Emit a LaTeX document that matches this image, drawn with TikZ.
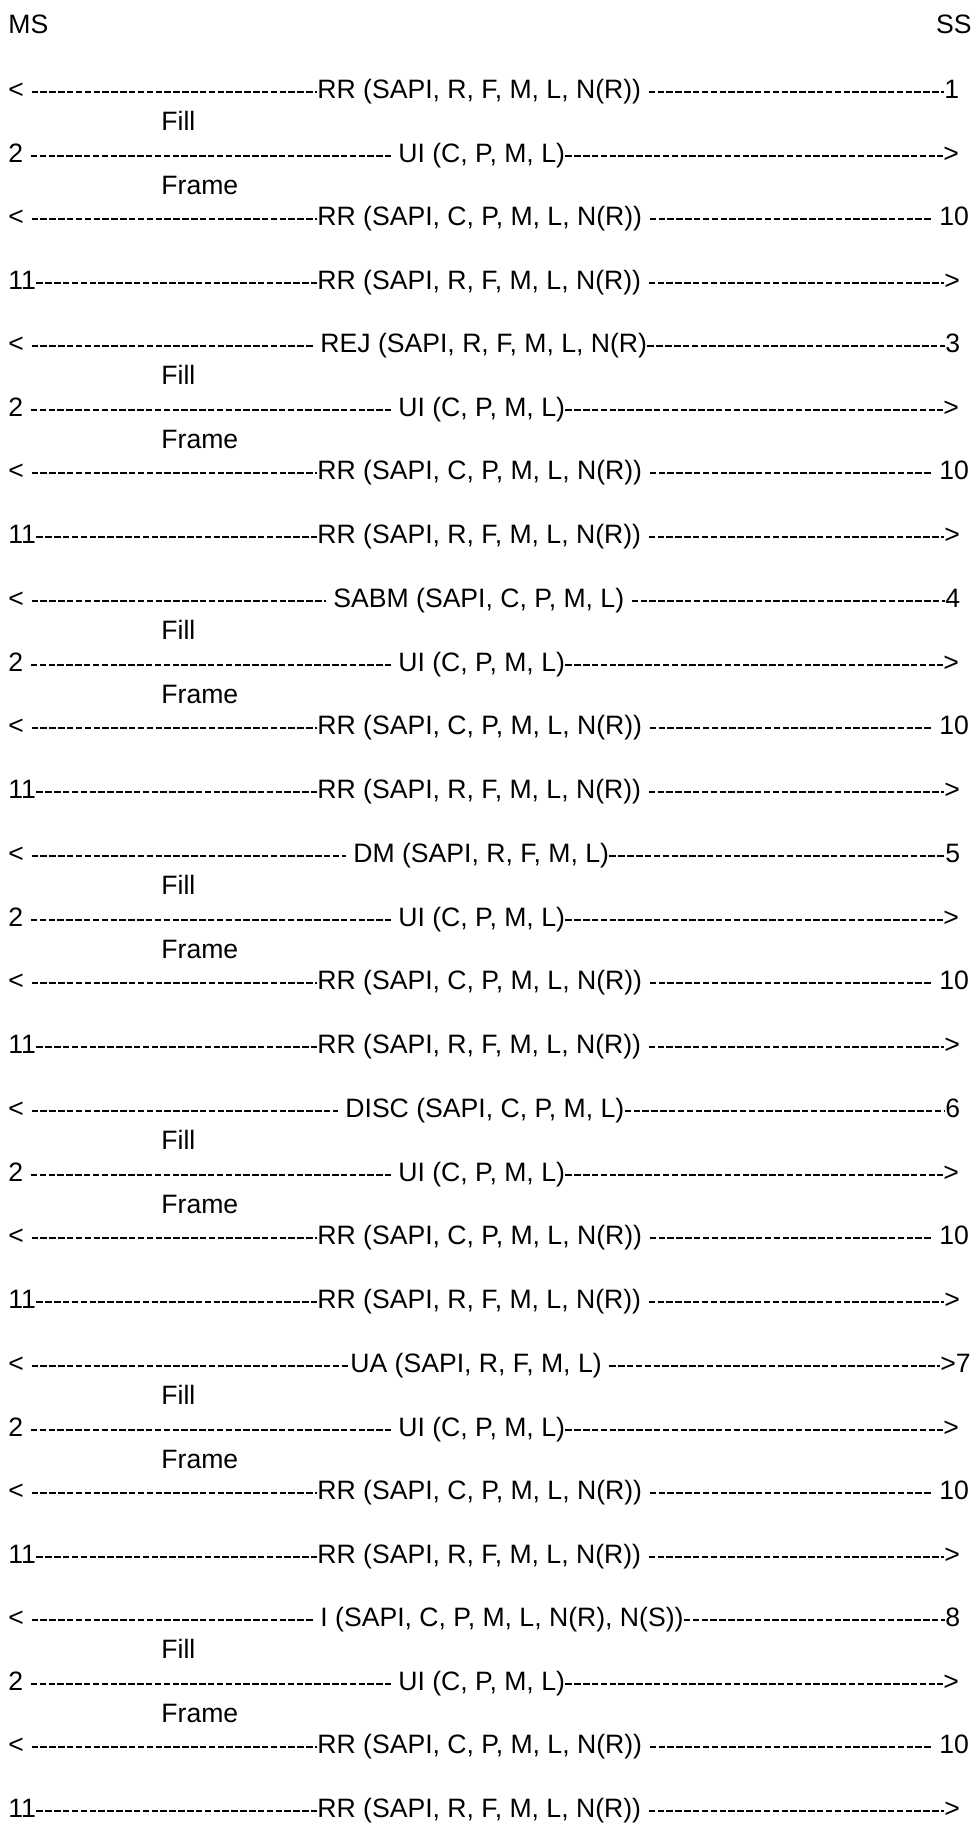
\documentclass[tikz,border=0pt]{standalone}
\usepackage{fontspec}
\setmainfont{Liberation Sans}
\tikzset{
  lbl/.style={anchor=base west, inner sep=0pt, font=\fontsize{13.3pt}{16pt}\selectfont},
  hy/.style={line width=1pt, dash pattern=on 3.25pt off 1.18pt, transform canvas={yshift=3pt}}
}
\begin{document}
\begin{tikzpicture}[x=0.5pt, y=-0.5pt]
  \useasboundingbox (0,0) rectangle (974,1827);
  % stations
  \node[lbl] (ms) at (8,33) {MS};
  \node[lbl, anchor=base east] (ss) at (972,33) {SS};
  % first line of each block
  \foreach \b/\txt/\mx/\gb/\ga/\rt/\rx in {
      0/{RR (SAPI, R, F, M, L, N(R))}/317/0/3.6/1/944,
      1/{REJ (SAPI, R, F, M, L, N(R)}/320/3.6/0/3/945,
      2/{SABM (SAPI, C, P, M, L)}/333/3.6/3.6/4/945,
      3/{DM (SAPI, R, F, M, L)}/353/3.6/0/5/945,
      4/{DISC (SAPI, C, P, M, L)}/345/3.6/0/6/945,
      5/{UA (SAPI, R, F, M, L)}/350/0/3.6/{>7}/940,
      6/{I (SAPI, C, P, M, L, N(R), N(S))}/320/3.6/0/8/945}
  {
    \pgfmathsetmacro\yb{round(97.5+254.8*\b)}
    \node[lbl] (l\b) at (8,\yb) {<};
    \node[lbl] (m\b) at (\mx,\yb) {\txt};
    \node[lbl] (r\b) at (\rx,\yb) {\rt};
    \draw[hy, shorten <=3.6pt, shorten >=\gb pt] (l\b.base east) -- (m\b.base west);
    \draw[hy, shorten <=\ga pt] (m\b.base east) -- (r\b.base west);
  }
  % lines repeated in every block
  \foreach \b in {0,...,6}
  {
    \pgfmathsetmacro\yb{round(97.5+254.8*\b)}
    \node[lbl] (fill\b) at (161,\yb+32) {Fill};
    \node[lbl] (t\b) at (8,\yb+64) {2};
    \node[lbl] (u\b) at (398,\yb+64) {UI (C, P, M, L)};
    \node[lbl] (g\b) at (943,\yb+64) {>};
    \draw[hy, shorten <=3.6pt, shorten >=3.6pt] (t\b.base east) -- (u\b.base west);
    \draw[hy] (u\b.base east) -- (g\b.base west);
    \node[lbl] (frame\b) at (161,\yb+96) {Frame};
    \node[lbl] (k\b) at (8,\yb+127) {<};
    \node[lbl] (c\b) at (317,\yb+127) {RR (SAPI, C, P, M, L, N(R))};
    \node[lbl] (n\b) at (939,\yb+127) {10};
    \draw[hy, shorten <=3.6pt] (k\b.base east) -- (c\b.base west);
    \draw[hy, shorten <=3.6pt, shorten >=3.6pt] (c\b.base east) -- (n\b.base west);
    \node[lbl] (e\b) at (8,\yb+191) {11};
    \node[lbl] (d\b) at (317,\yb+191) {RR (SAPI, R, F, M, L, N(R))};
    \node[lbl] (f\b) at (944,\yb+191) {>};
    \draw[hy] (e\b.base east) -- (d\b.base west);
    \draw[hy, shorten <=3.6pt] (d\b.base east) -- (f\b.base west);
  }
\end{tikzpicture}
\end{document}
